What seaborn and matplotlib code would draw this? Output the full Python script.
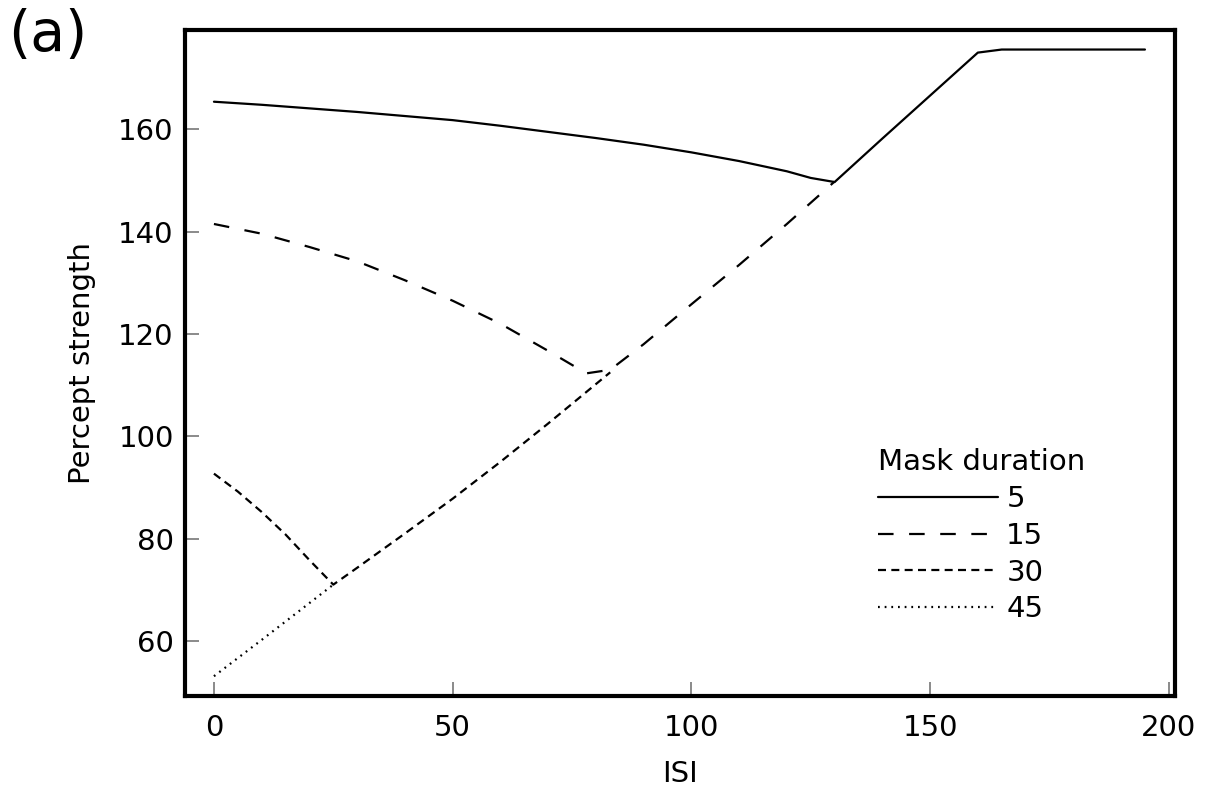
import numpy as np
import pandas as pd
import matplotlib
matplotlib.use("Agg")
import matplotlib.pyplot as plt
import seaborn as sns
from matplotlib.lines import Line2D

# ---- data ----
isi_5 = [0, 10, 20, 30, 40, 50, 60, 70, 80, 90, 100, 110, 120, 125, 130,
         140, 150, 160, 165, 170, 180, 190, 195]
val_5 = [165.4, 164.8, 164.1, 163.4, 162.6, 161.8, 160.7, 159.5, 158.3, 157.0,
         155.5, 153.8, 151.8, 150.5, 149.7,
         158.2, 166.6, 175.0, 175.6, 175.6, 175.6, 175.6, 175.6]

isi_15 = [0, 10, 20, 30, 40, 50, 60, 70, 78, 83, 90, 100, 110, 120, 130]
val_15 = [141.5, 139.6, 137.0, 134.2, 130.5, 126.5, 122.0, 116.7, 112.3, 113.0,
          118.0, 125.8, 133.5, 141.5, 149.8]

isi_30 = [0, 5, 10, 15, 20, 25, 30, 40, 50, 60, 70, 80, 83]
val_30 = [92.7, 89.2, 85.2, 80.8, 75.8, 71.0, 74.3, 81.0, 87.8, 95.0, 102.5,
          110.2, 112.5]

isi_45 = [0, 10, 20, 25]
val_45 = [53.1, 60.2, 67.4, 71.0]

mask_labels = ["5", "15", "30", "45"]
x_ticks = [0, 50, 100, 150, 200]
y_ticks = [60, 80, 100, 120, 140, 160]

df = pd.concat([
    pd.DataFrame({"ISI": isi_5, "strength": val_5, "mask": "5"}),
    pd.DataFrame({"ISI": isi_15, "strength": val_15, "mask": "15"}),
    pd.DataFrame({"ISI": isi_30, "strength": val_30, "mask": "30"}),
    pd.DataFrame({"ISI": isi_45, "strength": val_45, "mask": "45"}),
], ignore_index=True)

sns.set_theme(style="white")
plt.rcParams["font.family"] = ["DejaVu Sans"]
plt.rcParams["text.color"] = "black"
plt.rcParams["axes.labelcolor"] = "black"

FS = 21

fig = plt.figure(figsize=(12.08, 7.92), dpi=100)
ax = fig.add_axes([0.153, 0.121, 0.8197, 0.841])

dash_map = {"5": "", "15": (7, 7), "30": (3.6, 2.4), "45": (0.8, 2.2)}
sns.lineplot(data=df, x="ISI", y="strength", style="mask", dashes=dash_map,
             style_order=mask_labels, color="black", linewidth=1.6,
             sort=False, estimator=None, legend=False, ax=ax)

ax.set_xlim(-6.1, 201.3)
ax.set_ylim(49.2, 179.4)
ax.set_xticks(x_ticks)
ax.set_yticks(y_ticks)
ax.tick_params(axis="both", direction="in", length=10, width=1.2,
               color="#777777", labelsize=FS, labelcolor="black",
               bottom=True, left=True, top=False, right=False)
ax.tick_params(axis="x", pad=13)
ax.tick_params(axis="y", pad=8)
for sp in ax.spines.values():
    sp.set_visible(True)
    sp.set_color("black")
    sp.set_linewidth(3)

ax.set_xlabel("ISI", fontsize=FS, labelpad=13)
ax.set_ylabel("Percept strength", fontsize=FS, labelpad=16)

handles = [Line2D([], [], color="black", linewidth=1.6, linestyle="-")]
for m in mask_labels[1:]:
    h = Line2D([], [], color="black", linewidth=1.6, linestyle="--")
    h.set_dashes(dash_map[m])
    handles.append(h)
leg = ax.legend(handles, mask_labels, title="Mask duration", frameon=False,
                fontsize=FS, title_fontsize=FS, handlelength=4.1,
                handletextpad=0.3, labelspacing=0.3,
                borderpad=0, borderaxespad=0,
                loc="upper left", bbox_to_anchor=(0.700, 0.372))
leg._legend_box.align = "left"

fig.text(0.007, 0.99, "(a)", fontsize=41, ha="left", va="top")

fig.savefig("out.png", dpi=100)
